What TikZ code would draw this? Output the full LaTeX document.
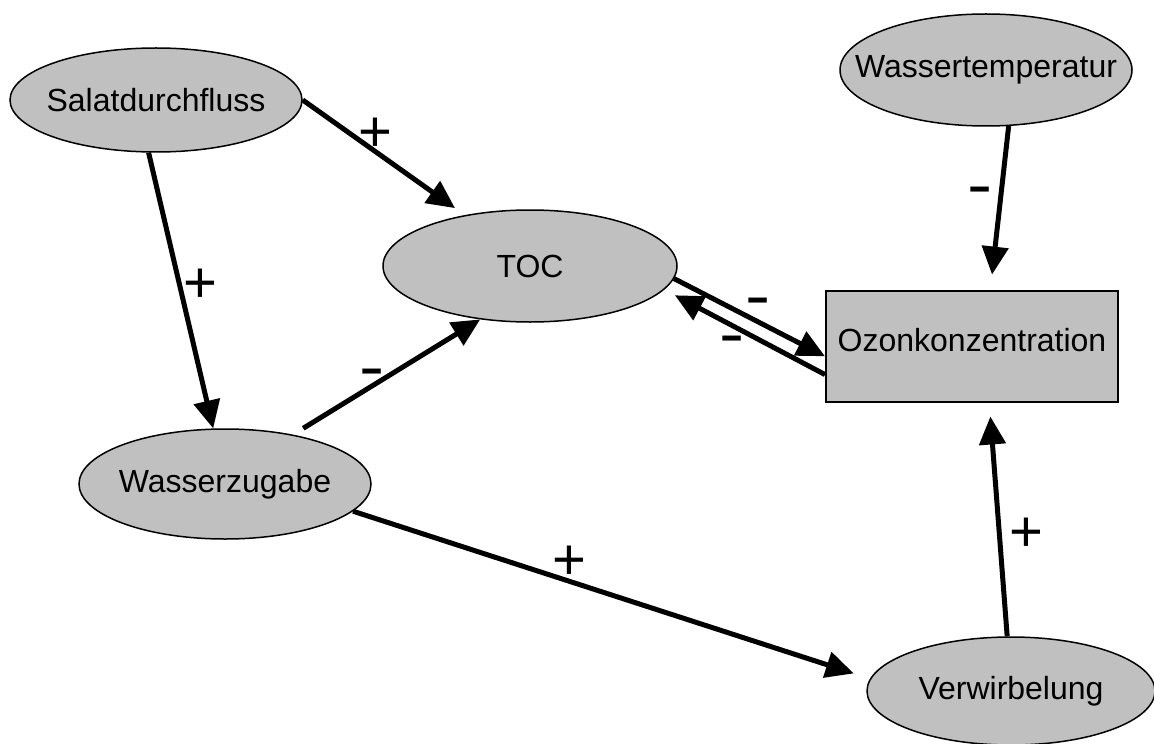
\documentclass[tikz,border=0pt]{standalone}
\usepackage{fontspec}
\usepackage{graphicx}
\setmainfont{Liberation Sans}
\usetikzlibrary{shapes.geometric,arrows.meta}
\definecolor{silver}{HTML}{C0C0C0}
\newcommand{\neglabel}{\scalebox{1.3}[1.1]{-}}

\begin{document}
\begin{tikzpicture}[x=.5pt, y=-.5pt,
		var/.style={ellipse, draw, line width=.75pt, fill=silver, minimum width=146pt, minimum height=55pt, inner xsep=-16pt, inner ysep=0pt, font=\fontsize{16}{19}\selectfont},
		conc/.style={rectangle, draw, line width=1pt, fill=silver, minimum width=146pt, minimum height=55.5pt, text depth=6pt, font=\fontsize{16}{19}\selectfont},
		arr/.style={line width=2.5pt, -{Triangle[length=14pt, width=13pt]}},
		sgn/.style={inner sep=0pt, font=\fontsize{29}{30}\selectfont}]
				\useasboundingbox (0,0) rectangle (1154,743);
				\node[var, minimum height=52pt] (salat) at (156,100) {Salatdurchfluss};
				\node[var, minimum width=147pt, minimum height=56pt] (toc) at (530,266) {TOC};
				\node[var, minimum height=56pt] (wt) at (986,70) {Wassertemperatur};
				\node[conc] (oz) at (972,346) {Ozonkonzentration};
				\node[var] (wz) at (225,484) {Wasserzugabe};
				\node[var, minimum width=144pt, minimum height=54pt] (vw) at (1011,691) {Verwirbelung};
				\draw[arr, shorten >=6pt] (salat.east) -- (toc.142);
				\draw[arr] (salat.262) -- (wz.102);
				\draw[arr, shorten <=6pt] (wz.36) -- (toc.227);
				\draw[arr] (toc.355) -- (oz.184);
				\draw[arr, shorten >=6pt] (oz.191) -- (toc.350);
				\draw[arr, shorten >=7.5pt] (wt.292) -- (oz.72);
				\draw[arr, shorten >=8.5pt] (wz.348) -- (vw.175);
				\draw[arr, shorten >=7pt] (vw.94) -- (oz.287);
				\node[sgn] (p1) at (375,135) {+};
				\node[sgn] (p2) at (200,286) {+};
				\node[sgn] (m3) at (372,379) {\neglabel};
				\node[sgn] (m4) at (758,308) {\neglabel};
				\node[sgn] (m5) at (732,346) {\neglabel};
				\node[sgn] (m6) at (980,197) {\neglabel};
				\node[sgn] (p7) at (569,563) {+};
				\node[sgn] (p8) at (1026,535) {+};

			\end{tikzpicture}
\end{document}
